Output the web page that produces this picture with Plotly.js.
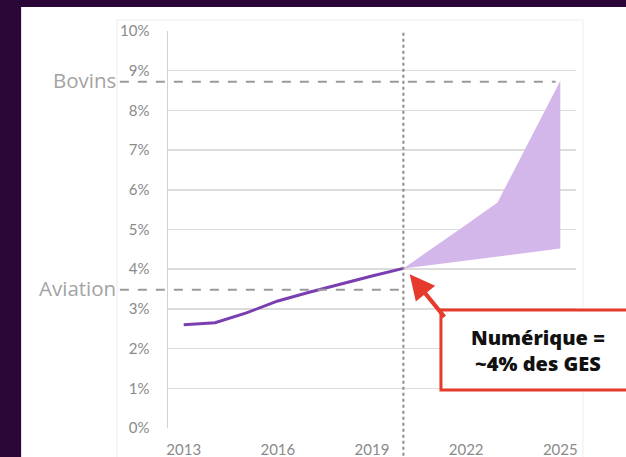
<!DOCTYPE html>
<html><head><meta charset="utf-8">
<script src="https://cdn.plot.ly/plotly-3.0.1.min.js"></script>
<style>html,body{margin:0;padding:0;background:#2b0738;}</style>
</head><body><div id="chart" style="width:626px;height:457px;"></div>
<script>
// Historical share of digital in GHG emissions (%)
const histYears = [2013, 2014, 2015, 2016, 2017, 2018, 2019, 2020];
const histValues = [2.6, 2.65, 2.9, 3.2, 3.42, 3.63, 3.83, 4.02];
// Projection band
const projYears = [2020, 2021, 2022, 2023, 2024, 2025];
const projLow = [4.02, 4.12, 4.22, 4.32, 4.42, 4.52];
const projHigh = [4.02, 4.56, 5.12, 5.68, 7.2, 8.75];
// Reference sectors
const refLabels = ['Bovins', 'Aviation'];
const refValues = [8.72, 3.48];
const refEndYears = [2024.85, 2020];
const markerYear = 2020;
const xTicks = [2013, 2016, 2019, 2022, 2025];
const yTicks = [0, 1, 2, 3, 4, 5, 6, 7, 8, 9, 10];
const boxText = ['Numérique =', '~4% des GES'];

const xRange = [2012.5, 2025.5];
const yRange = [0, 10];
const toPaperX = v => (v - xRange[0]) / (xRange[1] - xRange[0]);

const traces = [
  {x: projYears, y: projLow, mode: 'lines', line: {width: 0, color: '#d3b6ea'}, hoverinfo: 'skip', showlegend: false},
  {x: projYears, y: projHigh, mode: 'lines', fill: 'tonexty', fillcolor: '#d3b6ea', line: {width: 0, color: '#d3b6ea'}, hoverinfo: 'skip', showlegend: false},
  {x: histYears, y: histValues, mode: 'lines', line: {color: '#7a3eb1', width: 3}, showlegend: false}
];

const shapes = [
  {type: 'rect', xref: 'paper', yref: 'paper', x0: -0.36, x1: 1.2, y0: -0.2, y1: 1.0605, fillcolor: '#ffffff', line: {width: 0}, layer: 'below'},
  {type: 'rect', xref: 'paper', yref: 'paper', x0: -0.125, x1: 1.017, y0: -0.2, y1: 1.028, fillcolor: 'rgba(0,0,0,0)', line: {width: 1, color: '#ededed'}, layer: 'below'},
  {type: 'line', xref: 'x', yref: 'paper', x0: markerYear, x1: markerYear, y0: -0.1, y1: 0.998, line: {color: '#8a8a8a', width: 2, dash: 'dot'}, layer: 'above'},
  {type: 'rect', xref: 'paper', yref: 'paper', x0: 0.669, x1: 1.2, y0: 0.0957, y1: 0.297, fillcolor: '#ffffff', line: {color: '#e63a2c', width: 3}, layer: 'above'}
];
refLabels.forEach((lab, i) => {
  shapes.push({type: 'line', xref: 'paper', yref: 'y', x0: -0.118, x1: toPaperX(refEndYears[i]), y0: refValues[i], y1: refValues[i], line: {color: '#9a9a9a', width: 2, dash: 'dash'}, layer: 'above'});
});

const annotations = refLabels.map((lab, i) => ({
  xref: 'paper', yref: 'y', x: -0.122, y: refValues[i] + 0.05, xanchor: 'right', yanchor: 'middle',
  text: lab, showarrow: false, font: {family: 'Open Sans, Noto Sans, sans-serif', size: 20.5, color: '#a3a3a3'}
}));
annotations.push({
  xref: 'paper', yref: 'paper', x: 0.907, y: 0.196, xanchor: 'center', yanchor: 'middle',
  text: boxText.join('<br>'), showarrow: false, align: 'center',
  font: {family: 'Open Sans, Noto Sans, sans-serif', size: 20, color: '#111111', weight: 800}
});
annotations.push({
  xref: 'x', yref: 'y', x: markerYear + 0.2, y: histValues[histValues.length - 1] - 0.15,
  ax: 36, ay: 44, text: '', showarrow: true, arrowhead: 2, arrowsize: 1.25, arrowwidth: 4, arrowcolor: '#e63a2c', standoff: 0
});

const tickFont = {family: 'Lato, Liberation Sans, sans-serif', size: 15, color: '#8a8a8a'};
const layout = {
  width: 626, height: 457,
  margin: {l: 168, r: 50, t: 31, b: 29},
  paper_bgcolor: '#2b0738', plot_bgcolor: 'rgba(0,0,0,0)',
  showlegend: false,
  xaxis: {range: xRange, tickvals: xTicks, ticktext: xTicks.map(String), showgrid: false, zeroline: false,
    showline: false, ticks: '', ticklabelstandoff: 11, tickfont: tickFont},
  yaxis: {range: yRange, tickvals: yTicks, ticktext: yTicks.map(v => v + '%'), showgrid: true, gridcolor: '#dcdcdc', gridwidth: 1.5,
    zeroline: false, showline: true, linecolor: '#d2d2d2', linewidth: 1.5, ticks: '', ticklabelstandoff: 14, tickfont: tickFont},
  shapes: shapes, annotations: annotations
};
Plotly.newPlot('chart', traces, layout, {staticPlot: true, displayModeBar: false});
</script></body></html>
